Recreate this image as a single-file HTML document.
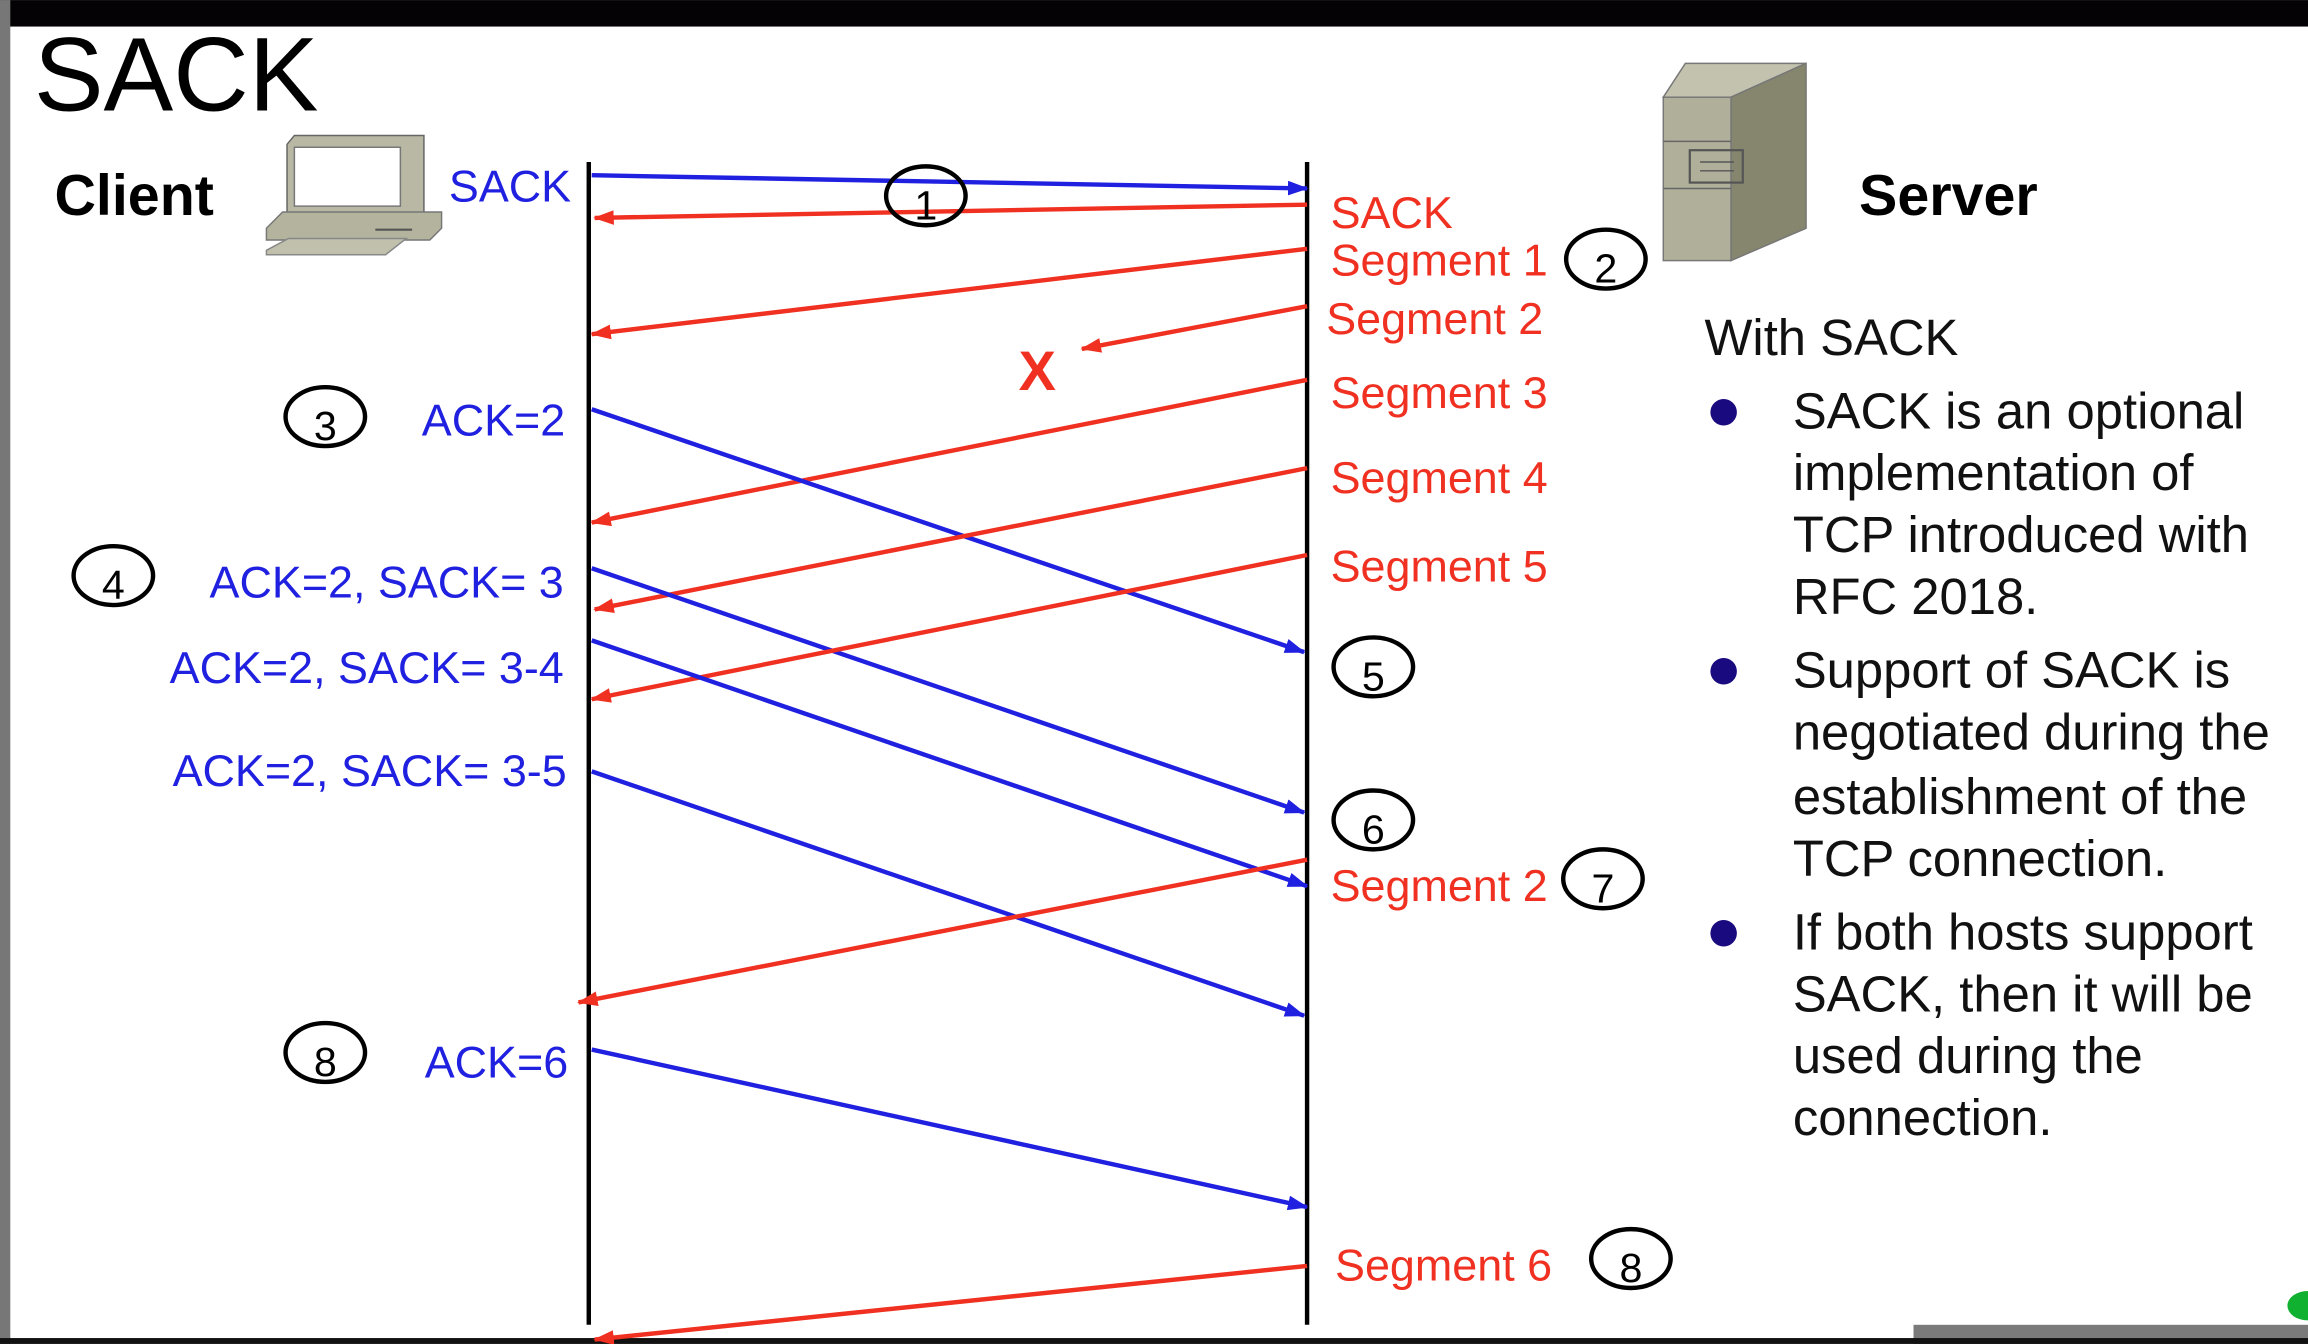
<!DOCTYPE html>
<html><head><meta charset="utf-8"><style>
html,body{margin:0;padding:0;background:#fff;overflow:hidden}
svg{display:block}
text{font-family:"Liberation Sans",sans-serif}
</style></head><body>
<svg id="s" width="2308" height="1344" viewBox="0 0 1568 913" xmlns="http://www.w3.org/2000/svg">
<defs>
<marker id="ab" markerWidth="14" markerHeight="10" refX="13" refY="5" orient="auto" markerUnits="userSpaceOnUse"><path d="M0,0 L14,5 L0,10 z" fill="#2020e0"/></marker>
<marker id="ar" markerWidth="14" markerHeight="10" refX="13" refY="5" orient="auto" markerUnits="userSpaceOnUse"><path d="M0,0 L14,5 L0,10 z" fill="#f03020"/></marker>
</defs>
<rect x="0" y="0" width="1568" height="913" fill="#fff"/>
<rect x="0" y="0" width="1568" height="18" fill="#050205"/>
<rect x="0" y="0" width="7" height="913" fill="#777"/>
<rect x="1300" y="900" width="268" height="13" fill="#7a7a7a"/>
<rect x="0" y="909" width="1568" height="4" fill="#111"/>
<ellipse cx="1568" cy="887" rx="14" ry="10" fill="#10b030"/>
<text x="23" y="75" font-size="71">SACK</text>
<text x="37" y="146" font-size="39" font-weight="bold">Client</text>
<text x="1263" y="146" font-size="39" font-weight="bold">Server</text>
<g>
<path d="M195,98 L200,92 L288,92 L288,145 L195,145 z" fill="#b8b8a4" stroke="#666" stroke-width="1"/>
<rect x="200" y="100" width="72" height="40" fill="#fff" stroke="#777"/>
<path d="M181,155 L192,144 L300,144 L300,155 L292,163 L181,163 z" fill="#b4b49e" stroke="#777"/>
<line x1="255" y1="156" x2="280" y2="156" stroke="#555" stroke-width="1.5"/>
<path d="M181,170 L196,162 L276,162 L262,173 L181,173 z" fill="#c0c0ad" stroke="#888"/>
</g>
<g>
<path d="M1130,66 L1145,43 L1227,43 L1176,66 z" fill="#c2c2ae" stroke="#777"/>
<path d="M1176,66 L1227,43 L1227,155 L1176,177 z" fill="#86866e" stroke="#777"/>
<rect x="1130" y="66" width="46" height="111" fill="#b0b09a" stroke="#777"/>
<line x1="1130" y1="96" x2="1176" y2="96" stroke="#666"/>
<line x1="1130" y1="128" x2="1176" y2="128" stroke="#666"/>
<rect x="1148" y="102" width="36" height="22" fill="none" stroke="#555" stroke-width="1.5"/>
<line x1="1155" y1="110" x2="1178" y2="110" stroke="#555"/>
<line x1="1155" y1="116" x2="1178" y2="116" stroke="#555"/>
</g>
<line x1="400" y1="110" x2="400" y2="900" stroke="#000" stroke-width="3"/>
<line x1="888" y1="110" x2="888" y2="900" stroke="#000" stroke-width="3"/>
<g id="arrows"></g>
<text x="692" y="265" font-size="38" font-weight="bold" fill="#f03020">X</text>
<g id="labels" font-size="30.5"></g>
<g id="steps"></g>
<g font-size="34.5" fill="#111">
<text x="1158" y="241">With SACK</text>
<circle cx="1171" cy="280" r="9" fill="#1a0a80"/>
<text x="1218" y="291">SACK is an optional</text>
<text x="1218" y="333">implementation of</text>
<text x="1218" y="375">TCP introduced with</text>
<text x="1218" y="417">RFC 2018.</text>
<circle cx="1171" cy="456" r="9" fill="#1a0a80"/>
<text x="1218" y="467">Support of SACK is</text>
<text x="1218" y="509">negotiated during the</text>
<text x="1218" y="553">establishment of the</text>
<text x="1218" y="595">TCP connection.</text>
<circle cx="1171" cy="634" r="9" fill="#1a0a80"/>
<text x="1218" y="645">If both hosts support</text>
<text x="1218" y="687">SACK, then it will be</text>
<text x="1218" y="729">used during the</text>
<text x="1218" y="771">connection.</text>
</g>
</svg>
<script>
const arrowKinds=["b","r","r","r","r","b","r","b","r","b","b","r","b","r"];
const arrowNames=["sack-syn","sack-reply","segment-1","segment-2-lost","segment-3","ack-2","segment-4","ack-2-sack-3","segment-5","ack-2-sack-3-4","ack-2-sack-3-5","segment-2-retransmit","ack-6","segment-6"];
const arrowFrom=[[402,119],[888,139],[888,169],[888,208],[888,258],[402,278],[888,318],[402,386],[888,377],[402,435],[402,524],[888,584],[402,713],[888,860]];
const arrowTo=[[888,128],[404,148],[402,227],[735,237],[402,355],[886,443],[404,414],[886,552],[402,475],[888,602],[886,690],[393,681],[888,820],[404,910]];
const labelText=["SACK","ACK=2","ACK=2, SACK= 3","ACK=2, SACK= 3-4","ACK=2, SACK= 3-5","ACK=6","SACK","Segment 1","Segment 2","Segment 3","Segment 4","Segment 5","Segment 2","Segment 6"];
const labelPos=[[388,137],[384,296],[383,406],[383,464],[385,534],[386,732],[904,155],[904,187],[901,227],[904,277],[904,335],[904,395],[904,612],[907,870]];
const labelKind=["b","b","b","b","b","b","r","r","r","r","r","r","r","r"];
const stepNums=["1","2","3","4","5","6","7","8","8"];
const stepPos=[[629,133],[1091,176],[221,283],[77,391],[933,453],[933,557],[1089,597],[221,715],[1108,855]];
const NS="http://www.w3.org/2000/svg";
const col={b:"#2020e0",r:"#f03020"};
const ga=document.getElementById("arrows");
arrowFrom.forEach((f,i)=>{const l=document.createElementNS(NS,"line");


l.setAttribute("x1",f[0]);l.setAttribute("y1",f[1]);l.setAttribute("x2",arrowTo[i][0]);l.setAttribute("y2",arrowTo[i][1]);
l.setAttribute("stroke",col[arrowKinds[i]]);l.setAttribute("stroke-width","3");l.setAttribute("marker-end","url(#a"+arrowKinds[i]+")");ga.appendChild(l);});
const gl=document.getElementById("labels");
labelText.forEach((t,i)=>{const e=document.createElementNS(NS,"text");


e.setAttribute("x",labelPos[i][0]);e.setAttribute("y",labelPos[i][1]);e.setAttribute("fill",col[labelKind[i]]);
if(labelKind[i]==="b")e.setAttribute("text-anchor","end");
e.textContent=t;gl.appendChild(e);});
const gs=document.getElementById("steps");
stepNums.forEach((n,i)=>{const g=document.createElementNS(NS,"g");


const [x,y]=stepPos[i];
g.innerHTML='<ellipse cx="'+x+'" cy="'+y+'" rx="27" ry="20" fill="none" stroke="#000" stroke-width="3"/><text x="'+x+'" y="'+(y+16)+'" font-size="28" text-anchor="middle">'+n+'</text>';
gs.appendChild(g);});
</script>
</body></html>
